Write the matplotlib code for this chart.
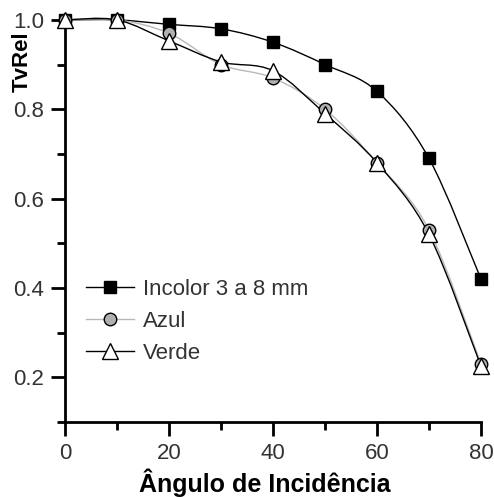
import matplotlib.pyplot as plt
import numpy as np
from matplotlib.path import Path
from matplotlib.patches import PathPatch
from matplotlib.ticker import MultipleLocator

angulo = [0, 10, 20, 30, 40, 50, 60, 70, 80]
incolor = [1.0, 1.0, 0.99, 0.98, 0.95, 0.90, 0.84, 0.69, 0.42]
azul = [1.0, 1.0, 0.97, 0.90, 0.87, 0.80, 0.68, 0.53, 0.23]
verde = [1.0, 1.0, 0.953, 0.906, 0.886, 0.79, 0.68, 0.52, 0.225]

plt.rcParams['font.family'] = ['Liberation Sans', 'DejaVu Sans']


def smooth_path(x, y):
    # Catmull-Rom curve through the points, as cubic bezier segments
    x = np.asarray(x, float)
    y = np.asarray(y, float)
    pts = np.column_stack([x, y])
    verts = [pts[0]]
    codes = [Path.MOVETO]
    n = len(pts)
    for i in range(n - 1):
        p0 = pts[i - 1] if i > 0 else pts[i]
        p1 = pts[i]
        p2 = pts[i + 1]
        p3 = pts[i + 2] if i + 2 < n else pts[i + 1]
        c1 = p1 + (p2 - p0) / 6.0
        c2 = p2 - (p3 - p1) / 6.0
        verts += [c1, c2, p2]
        codes += [Path.CURVE4] * 3
    return Path(verts, codes)


fig = plt.figure(figsize=(4.94, 4.97), dpi=100)
ax = fig.add_axes([0.1316, 0.151, 0.842, 0.809])

series = [
    (incolor, 'Incolor 3 a 8 mm', 'black', 's', 'black', 8),
    (azul, 'Azul', '#b8b8b8', 'o', '#b0b0b0', 9),
    (verde, 'Verde', 'black', '^', 'white', 11),
]

for vals, label, lc, mk, fc, ms in series:
    ax.add_patch(PathPatch(smooth_path(angulo, vals), facecolor='none',
                           edgecolor=lc, lw=1.0, zorder=2, clip_on=False))
    ax.plot(angulo, vals, linestyle='none', marker=mk, markersize=ms,
            markerfacecolor=fc, markeredgecolor='black', markeredgewidth=1.0,
            clip_on=False, zorder=3)
    # legend proxy
    ax.plot([], [], color=lc, lw=1.0, marker=mk, markersize=ms,
            markerfacecolor=fc, markeredgecolor='black', label=label)

ax.set_xlim(0, 80)
ax.set_ylim(0.1, 1.0)
ax.xaxis.set_major_locator(MultipleLocator(20))
ax.xaxis.set_minor_locator(MultipleLocator(10))
ax.yaxis.set_minor_locator(MultipleLocator(0.1))
ax.set_yticks([0.2, 0.4, 0.6, 0.8, 1.0])
ax.set_yticklabels(['0.2', '0.4', '0.6', '0.8', '1.0'])

for side in ['top', 'right']:
    ax.spines[side].set_visible(False)
for side in ['left', 'bottom']:
    ax.spines[side].set_linewidth(2)

ax.tick_params(which='major', direction='out', length=10, width=2,
               labelsize=16, pad=5, labelcolor='#333333')
ax.tick_params(which='minor', direction='out', length=6, width=2)

fig.text(0.045, 0.875, 'TvRel', rotation=90, ha='center', va='center',
         fontsize=16, fontweight='bold')
fig.text(0.535, 0.028, 'Ângulo de Incidência', ha='center', va='center',
         fontsize=18, fontweight='bold')

ax.legend(loc='upper left', bbox_to_anchor=(0.028, 0.378), frameon=False,
          fontsize=16, handlelength=2.2, handletextpad=0.4, labelspacing=0.49,
          borderaxespad=0, labelcolor='#333333')

fig.savefig('out.png', dpi=100)
